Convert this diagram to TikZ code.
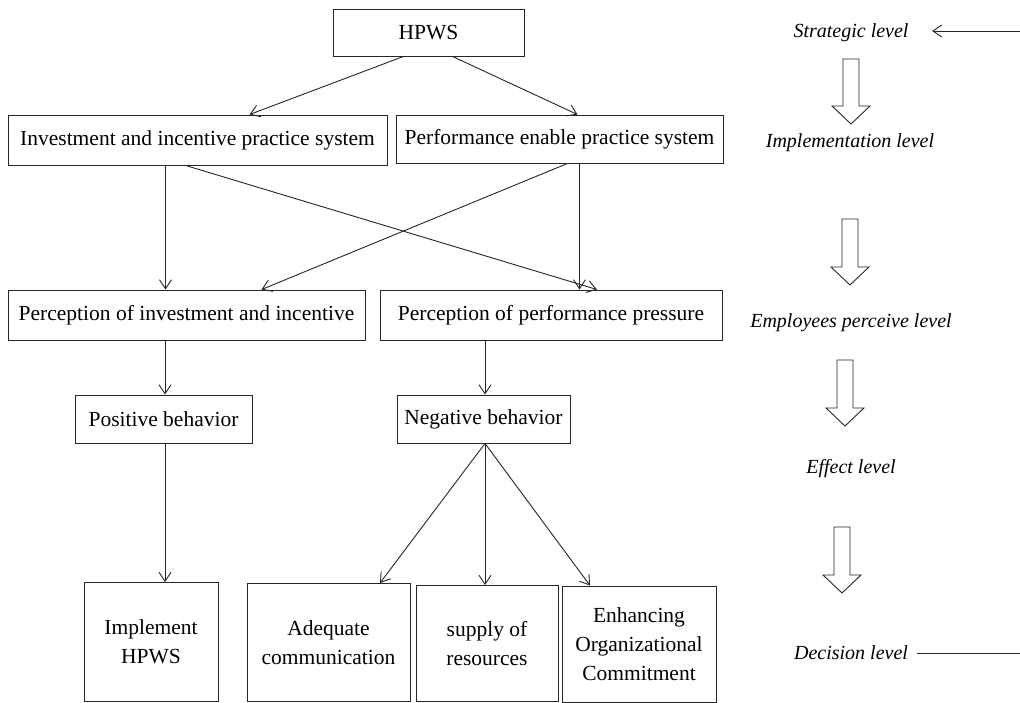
\documentclass[tikz,border=0pt]{standalone}
\usepackage{fontspec}
\setmainfont{Liberation Serif}
\usetikzlibrary{arrows.meta}

\newcommand{\levelarrow}[3]{% centre x, top y, tip y
	\draw[blockarrow] (#1-8,#2) -- (#1+8,#2) -- (#1+8,#3-18) -- (#1+19,#3-18)
		-- (#1,#3) -- (#1-19,#3-18) -- (#1-8,#3-18) -- cycle;}

\begin{document}
\begin{tikzpicture}[x=1pt, y=-1pt,
	box/.style={draw=black!85, line width=0.9pt, inner sep=0pt, align=center,
		font=\fontsize{21.5}{29}\selectfont},
	level/.style={inner sep=0pt, font=\fontsize{20}{24}\selectfont\itshape},
	blockarrow/.style={draw=black!85, line width=0.9pt},
	>={Straight Barb[length=9pt, width=12pt]}]

\useasboundingbox (0,0) rectangle (1020,703);

\begin{scope}[every node/.style={box}]
	%Strategic
	\node[minimum width=191pt, minimum height=47pt] (hpws) at (428.5, 32.5) {HPWS};
	
	%Implementation
	\node[minimum width=379pt, minimum height=50pt] (inv) at (197.5, 140) {Investment and incentive practice system};
	\node[minimum width=327pt, minimum height=48pt] (perf) at (559.5, 139) {Performance enable practice system};
	
	%Perceive
	\node[minimum width=357pt, minimum height=50pt] (pinv) at (186.5, 315) {Perception of investment and incentive};
	\node[minimum width=342pt, minimum height=50pt] (pperf) at (551, 315) {Perception of performance pressure};
	
	%Effect
	\node[minimum width=177pt, minimum height=48pt] (pos) at (163.5, 419) {Positive behavior};
	\node[minimum width=173pt, minimum height=48pt] (neg) at (483.5, 419) {Negative behavior};
	
	%Decision
	\node[minimum width=134pt, minimum height=119pt] (impl) at (151, 642) {Implement\\HPWS};
	\node[minimum width=163pt, minimum height=118pt] (adeq) at (328.5, 642.5) {Adequate\\communication};
	\node[minimum width=142pt, minimum height=116pt] (supp) at (487, 643.5) {supply of\\resources};
	\node[minimum width=154pt, minimum height=116pt] (enh) at (639, 644) {Enhancing\\Organizational\\Commitment};
\end{scope}

\begin{scope}[every node/.style={level}]
	\node (strat) at (851, 33) {Strategic level};
	\node (impll) at (850, 143) {Implementation level};
	\node (empl) at (851, 323) {Employees perceive level};
	\node (effl) at (851, 469) {Effect level};
	\node (decl) at (851, 653) {Decision level};
\end{scope}

\coordinate (stin) at (1020, 31);
\coordinate (stend) at (932, 31);
\coordinate (dcout) at (1020, 653);
\coordinate (dcend) at (917, 653);

\begin{scope}[style={line width=0.9pt, draw=black!85}]
	%HPWS
	\path [->] ([xshift=-25pt]hpws.south) edge ([xshift=52pt]inv.north);
	\path [->] ([xshift=24pt]hpws.south) edge ([xshift=18pt]perf.north);
	
	%Practice systems
	\path [->] ([xshift=-32pt]inv.south) edge ([xshift=-32pt]inv.south |- pinv.north);
	\path [->] ([xshift=-12pt]inv.south) edge ([xshift=46pt]pperf.north);
	\path [->] ([xshift=8pt]perf.south) edge ([xshift=75pt]pinv.north);
	\path [->] ([xshift=20pt]perf.south) edge ([xshift=20pt]perf.south |- pperf.north);
	
	%Perception
	\path [->] ([xshift=-21.5pt]pinv.south) edge ([xshift=-21.5pt]pinv.south |- pos.north);
	\path [->] ([xshift=-66pt]pperf.south) edge ([xshift=-66pt]pperf.south |- neg.north);
	
	%Behavior
	\path [->] ([xshift=1.5pt]pos.south) edge ([xshift=1.5pt]pos.south |- impl.north);
	\path [->] ([xshift=1.5pt]neg.south) edge ([xshift=51.5pt]adeq.north);
	\path [->] ([xshift=1.5pt]neg.south) edge ([xshift=-2pt]supp.north);
	\path [->] ([xshift=1.5pt]neg.south) edge ([xshift=-49pt]enh.north);
	
	%Levels
	\path [->] (stin) edge (stend);
	\path (dcend) edge (dcout);
\end{scope}

\levelarrow{851}{59}{124}
\levelarrow{850}{219}{285}
\levelarrow{845}{360}{426}
\levelarrow{842}{527}{593}

\end{tikzpicture}
\end{document}
